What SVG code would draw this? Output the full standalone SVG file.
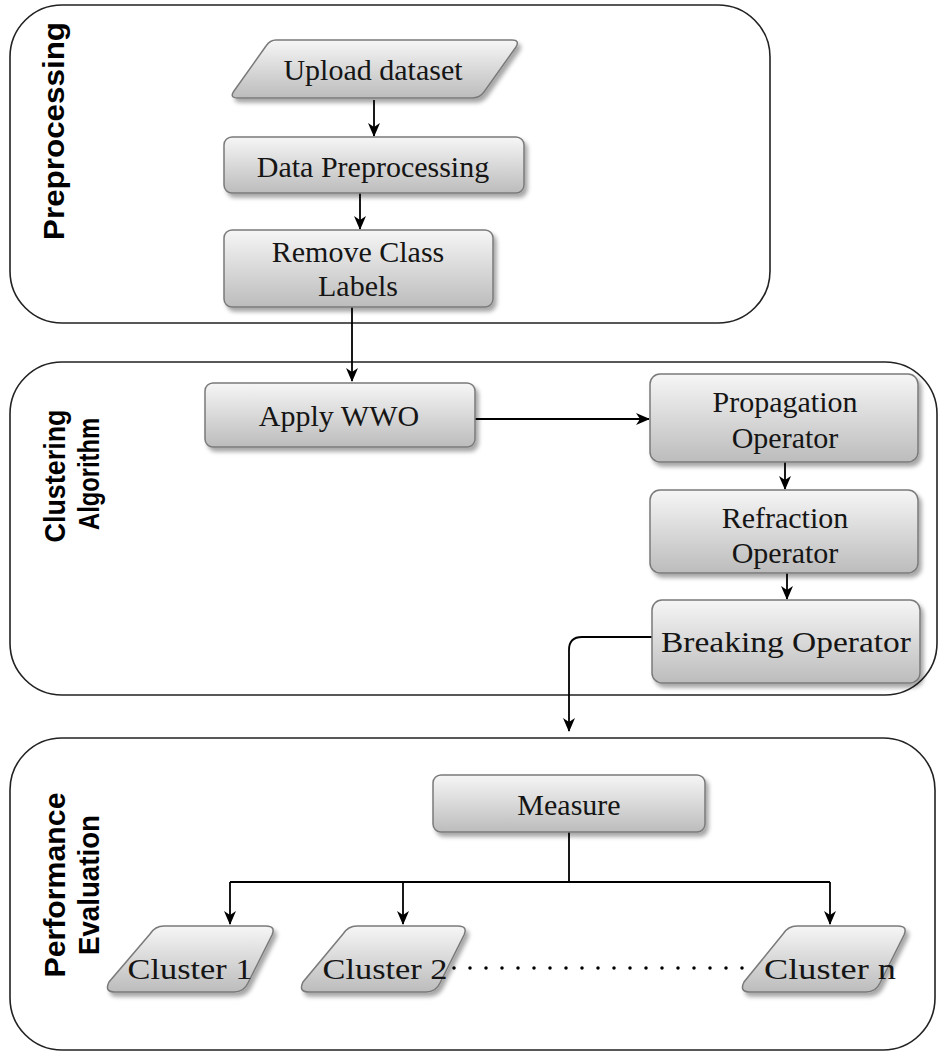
<svg xmlns="http://www.w3.org/2000/svg" width="939" height="1054" viewBox="0 0 939 1054">
<defs>
<linearGradient id="g" x1="0" y1="0" x2="0" y2="1">
<stop offset="0" stop-color="#f6f6f6"/>
<stop offset="1" stop-color="#bcbcbc"/>
</linearGradient>
<filter id="sh" x="-10%" y="-10%" width="125%" height="140%">
<feDropShadow dx="3" dy="4" stdDeviation="2" flood-color="#000" flood-opacity="0.35"/>
</filter>
<marker id="ah" markerWidth="14" markerHeight="12" refX="13" refY="6" orient="auto" markerUnits="userSpaceOnUse">
<path d="M0,0 L14,6 L0,12 L4,6 Z" fill="#000"/>
</marker>
</defs>
<style>
.panel{fill:#fff;stroke:#222;stroke-width:1.6}
.box{fill:url(#g);stroke:#7a7a7a;stroke-width:1.5;filter:url(#sh)}
.t{font-family:"Liberation Serif","Times New Roman",serif;font-size:30px;fill:#151515;text-anchor:middle}
.lab{font-family:"Liberation Sans",Arial,sans-serif;font-weight:bold;font-size:30px;fill:#000;text-anchor:middle}
.c{fill:none;stroke:#000;stroke-width:1.8}
</style>
<g id="panels">
<rect id="panel-preprocessing" class="panel" x="10" y="5" width="760" height="318" rx="52"/>
<rect id="panel-clustering" class="panel" x="10" y="362" width="927" height="333" rx="52"/>
<rect id="panel-evaluation" class="panel" x="10" y="738" width="925" height="312" rx="52"/>
</g>
<g id="labels">
<text class="lab" transform="translate(64,131) rotate(-90)" textLength="218" lengthAdjust="spacingAndGlyphs">Preprocessing</text>
<text class="lab" transform="translate(65,476) rotate(-90)" textLength="133" lengthAdjust="spacingAndGlyphs">Clustering</text>
<text class="lab" transform="translate(99,474) rotate(-90)" textLength="112" lengthAdjust="spacingAndGlyphs">Algorithm</text>
<text class="lab" transform="translate(65,885) rotate(-90)" textLength="185" lengthAdjust="spacingAndGlyphs">Performance</text>
<text class="lab" transform="translate(99,885) rotate(-90)" textLength="140" lengthAdjust="spacingAndGlyphs">Evaluation</text>
</g>
<g id="connectors">
<line class="c" x1="374" y1="100" x2="374" y2="136" marker-end="url(#ah)"/>
<line class="c" x1="360" y1="193" x2="360" y2="229" marker-end="url(#ah)"/>
<line class="c" x1="352" y1="307" x2="352" y2="381" marker-end="url(#ah)"/>
<line class="c" x1="475" y1="419" x2="649" y2="419" marker-end="url(#ah)"/>
<line class="c" x1="785" y1="462" x2="785" y2="489" marker-end="url(#ah)"/>
<line class="c" x1="787" y1="573" x2="787" y2="599" marker-end="url(#ah)"/>
<path class="c" d="M652,637 L582,637 Q569,637 569,650 L569,731" marker-end="url(#ah)"/>
<path class="c" d="M569,832 L569,882 M230,882 L830,882"/>
<line class="c" x1="230" y1="882" x2="230" y2="924" marker-end="url(#ah)"/>
<line class="c" x1="403" y1="882" x2="403" y2="924" marker-end="url(#ah)"/>
<line class="c" x1="830" y1="882" x2="830" y2="924" marker-end="url(#ah)"/>
<line x1="454" y1="968" x2="760" y2="968" stroke="#000" stroke-width="3.5" stroke-linecap="round" stroke-dasharray="0 16"/>
</g>
<g id="upload">
<path class="box" d="M276,40 L512,40 Q520,40 516,47 L484,92 Q480,98 472,98 L238,98 Q229,98 234,91 L266,46 Q270,40 276,40 Z"/>
<text class="t" x="373" y="80">Upload dataset</text>
</g>
<g id="data-preprocessing">
<rect class="box" x="224" y="137" width="300" height="56" rx="8"/>
<text class="t" x="373" y="177">Data Preprocessing</text>
</g>
<g id="remove-labels">
<rect class="box" x="224" y="230" width="269" height="77" rx="8"/>
<text class="t" x="358" y="262">Remove Class</text>
<text class="t" x="358" y="296">Labels</text>
</g>
<g id="apply-wwo">
<rect class="box" x="205" y="383" width="270" height="64" rx="8"/>
<text class="t" x="339" y="426">Apply WWO</text>
</g>
<g id="propagation">
<rect class="box" x="650" y="374" width="268" height="88" rx="10"/>
<text class="t" x="785" y="412">Propagation</text>
<text class="t" x="785" y="448">Operator</text>
</g>
<g id="refraction">
<rect class="box" x="650" y="490" width="268" height="83" rx="10"/>
<text class="t" x="785" y="528">Refraction</text>
<text class="t" x="785" y="563">Operator</text>
</g>
<g id="breaking">
<rect class="box" x="652" y="600" width="268" height="83" rx="10"/>
<text class="t" x="786" y="652" textLength="250" lengthAdjust="spacingAndGlyphs">Breaking Operator</text>
</g>
<g id="measure">
<rect class="box" x="433" y="775" width="272" height="57" rx="8"/>
<text class="t" x="569" y="815">Measure</text>
</g>
<g id="cluster1">
<path class="box" d="M164,926 L266,926 Q276,926 272,935 L248,983 Q244,992 234,992 L115,992 Q104,992 109,982 L150,934 Q155,926 164,926 Z"/>
<text class="t" x="190" y="979" textLength="125" lengthAdjust="spacingAndGlyphs">Cluster 1</text>
</g>
<g id="cluster2">
<path class="box" d="M357,926 L458,926 Q468,926 464,935 L440,983 Q436,992 426,992 L309,992 Q298,992 303,982 L343,934 Q348,926 357,926 Z"/>
<text class="t" x="385" y="979" textLength="125" lengthAdjust="spacingAndGlyphs">Cluster 2</text>
</g>
<g id="clustern">
<path class="box" d="M797,926 L898,926 Q908,926 904,935 L880,983 Q876,992 866,992 L750,992 Q739,992 744,982 L783,934 Q788,926 797,926 Z"/>
<text class="t" x="830" y="979" textLength="132" lengthAdjust="spacingAndGlyphs">Cluster n</text>
</g>
</svg>
